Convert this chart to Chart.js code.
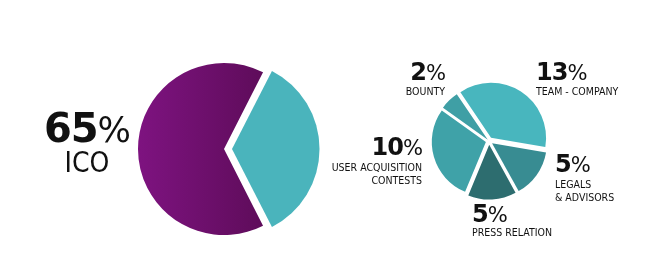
<!DOCTYPE html>
<html>
<head>
<meta charset="utf-8">
<script src="https://cdn.jsdelivr.net/npm/chart.js@4/dist/chart.umd.min.js"></script>
<style>
  html, body { margin: 0; padding: 0; background: #ffffff; }
  #stage { position: relative; width: 658px; height: 270px; overflow: hidden; }
  canvas { position: absolute; }
  #mainCanvas { left: 104px; top: 29px; }
  #splitCanvas { left: 409px; top: 61px; }
  .lbl { position: absolute; color: #111; white-space: nowrap; }
  .num { font-family: "DejaVu Sans", sans-serif; font-weight: bold; line-height: 1; letter-spacing: -1px; }
  .num .pc { font-weight: normal; font-size: 0.88em; }
  .cap { font-family: "DejaVu Sans Condensed", "DejaVu Sans", sans-serif; font-stretch: condensed; line-height: 1; }
</style>
</head>
<body>
<div id="stage">
  <canvas id="mainCanvas" width="240" height="240"></canvas>
  <canvas id="splitCanvas" width="160" height="160"></canvas>
</div>
<script>
// Overall split: ICO sale vs. the remaining allocation
const mainCategories = ['Allocation', 'ICO'];
const mainValues = [35, 65];
const mainColors = ['#4ab4bc', null]; // ICO slice uses a purple gradient

// Breakdown of the remaining allocation
const splitCategories = ['TEAM - COMPANY', 'LEGALS\n& ADVISORS', 'PRESS RELATION', 'USER ACQUISITION\nCONTESTS', 'BOUNTY'];
const splitValues = [13, 5, 5, 10, 2];
const splitColors = ['#48b6be', '#388c92', '#2d6d6f', '#3fa2a8', '#3f9fa5'];
const splitOffsets = [15, 15, 15, 13, 7];

function purpleFill(ctx) {
  const c = ctx.chart.ctx;
  const g = c.createLinearGradient(34, 0, 160, 0);
  g.addColorStop(0, '#7e1380');
  g.addColorStop(1, '#5e0c5a');
  return g;
}

new Chart(document.getElementById('mainCanvas'), {
  type: 'pie',
  data: {
    labels: mainCategories,
    datasets: [{
      data: mainValues,
      backgroundColor: (ctx) => ctx.dataIndex === 1 ? purpleFill(ctx) : mainColors[0],
      borderWidth: 0,
      offset: [32, 0],
      hoverOffset: 0
    }]
  },
  options: {
    responsive: false,
    animation: false,
    events: [],
    rotation: 27,
    radius: 86,
    layout: { padding: 0 },
    plugins: { legend: { display: false }, tooltip: { enabled: false } }
  }
});

new Chart(document.getElementById('splitCanvas'), {
  type: 'pie',
  data: {
    labels: splitCategories,
    datasets: [{
      data: splitValues,
      backgroundColor: splitColors,
      borderWidth: 0,
      offset: splitOffsets,
      hoverOffset: 0
    }]
  },
  options: {
    responsive: false,
    animation: false,
    events: [],
    rotation: -34,
    radius: 54,
    layout: { padding: 0 },
    plugins: { legend: { display: false }, tooltip: { enabled: false } }
  }
});

// Percentage labels with captions, placed around the two pies
const stage = document.getElementById('stage');
function addLabel(value, caption, x, y, align, numSize, capSize, capGap) {
  const box = document.createElement('div');
  box.className = 'lbl';
  box.style.top = y + 'px';
  box.style.textAlign = align;
  if (align === 'right') box.style.right = (658 - x) + 'px';
  else if (align === 'center') { box.style.left = (x - 100) + 'px'; box.style.width = '200px'; }
  else box.style.left = x + 'px';
  const num = document.createElement('div');
  num.className = 'num';
  num.style.fontSize = numSize + 'px';
  num.innerHTML = value + '<span class="pc">%</span>';
  box.appendChild(num);
  caption.split('\n').forEach((line, i) => {
    const c = document.createElement('div');
    c.className = 'cap';
    c.style.fontSize = capSize + 'px';
    c.style.marginTop = (i === 0 ? capGap : lineGap(capSize)) + 'px';
    c.textContent = line;
    box.appendChild(c);
  });
  stage.appendChild(box);
}
function lineGap(size) { return size > 12 ? 0 : 2; }

addLabel(mainValues[1], mainCategories[1], 87, 108, 'center', 40, 28, 1);
addLabel(splitValues[0], splitCategories[0], 536, 60, 'left', 24, 10.5, 2);
addLabel(splitValues[1], splitCategories[1], 555, 152, 'left', 24, 10.5, 3);
addLabel(splitValues[2], splitCategories[2], 472, 202, 'left', 24, 10.5, 1);
addLabel(splitValues[3], splitCategories[3], 422, 135, 'right', 24, 10.5, 3);
addLabel(splitValues[4], splitCategories[4], 445, 60, 'right', 24, 10.5, 2);
</script>
</body>
</html>
